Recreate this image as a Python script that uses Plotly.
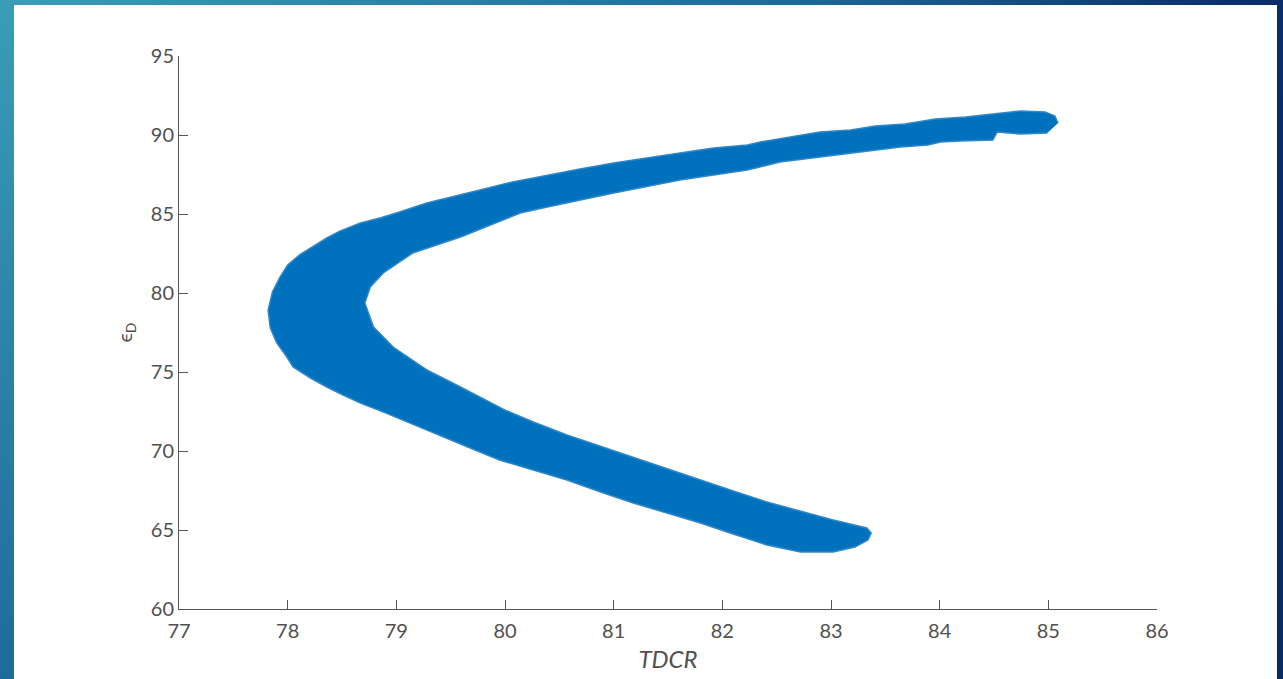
import base64
import plotly.graph_objects as go

# Band outline (outer edge: upper-right end -> tip -> lower-right end)
outer_tdcr = [85.09, 85.06, 84.97, 84.74, 84.49, 84.24, 83.96, 83.68, 83.41, 83.18, 82.90, 82.62,
              82.35, 82.23, 81.92, 81.61, 81.31, 81.00, 80.69, 80.39, 80.07, 79.77, 79.47, 79.28,
              79.03, 78.85, 78.67, 78.48, 78.36, 78.21, 78.11, 78.00, 77.93, 77.86, 77.82, 77.84,
              77.90, 77.98, 78.05, 78.21, 78.36, 78.51, 78.67, 78.90, 79.13, 79.40, 79.68, 79.95,
              80.26, 80.57, 80.88, 81.18, 81.49, 81.80, 82.10, 82.41, 82.72, 83.02, 83.22, 83.34, 83.37]
outer_eps = [90.76, 91.20, 91.46, 91.52, 91.33, 91.14, 91.01, 90.70, 90.57, 90.32, 90.19, 89.87,
             89.56, 89.37, 89.18, 88.86, 88.54, 88.23, 87.85, 87.47, 87.03, 86.52, 86.01, 85.70,
             85.13, 84.75, 84.43, 83.92, 83.48, 82.85, 82.41, 81.77, 81.01, 80.06, 78.92, 77.78,
             76.84, 76.08, 75.32, 74.62, 74.05, 73.54, 73.04, 72.41, 71.77, 71.01, 70.19, 69.43,
             68.80, 68.16, 67.41, 66.71, 66.08, 65.44, 64.75, 64.05, 63.61, 63.61, 63.92, 64.37, 64.81]

# Inner edge: lower-right end -> inner tip -> upper-right end
inner_tdcr = [83.33, 83.02, 82.72, 82.41, 82.10, 81.80, 81.49, 81.18, 80.88, 80.57, 80.26, 80.00,
              79.59, 79.28, 78.97, 78.79, 78.71, 78.76, 78.88, 79.15, 79.59, 80.14, 80.39, 81.00,
              81.61, 82.23, 82.53, 83.18, 83.64, 83.89, 84.01, 84.19, 84.49, 84.53, 84.74, 84.99]
inner_eps = [65.13, 65.63, 66.20, 66.77, 67.47, 68.16, 68.86, 69.56, 70.25, 71.01, 71.84, 72.59,
             74.05, 75.13, 76.58, 77.85, 79.37, 80.38, 81.27, 82.53, 83.54, 85.06, 85.44, 86.33,
             87.15, 87.78, 88.29, 88.86, 89.24, 89.37, 89.56, 89.62, 89.68, 90.19, 90.06, 90.13]

x_ticks = [77, 78, 79, 80, 81, 82, 83, 84, 85, 86]
y_ticks = [60, 65, 70, 75, 80, 85, 90, 95]

W, H = 1283, 679
L, R, T, B = 179, 126, 56, 70
pw, ph = W - L - R, H - T - B

def px(x):
    return (x - L) / pw

def py(y):
    return (H - B - y) / ph

svg = (
    '<svg xmlns="http://www.w3.org/2000/svg" width="1283" height="679" preserveAspectRatio="none">'
    '<defs><linearGradient id="g" x1="0" y1="0" x2="1" y2="0.6">'
    '<stop offset="0" stop-color="#3a9db7"/>'
    '<stop offset="0.45" stop-color="#1e6a9a"/>'
    '<stop offset="0.72" stop-color="#0b2d6b"/>'
    '<stop offset="1" stop-color="#0a2a66"/>'
    '</linearGradient></defs>'
    '<rect width="1283" height="679" fill="url(#g)"/></svg>'
)
src = "data:image/svg+xml;base64," + base64.b64encode(svg.encode()).decode()

BLUE = "#0072BD"
AX = "#555555"
TXT = "#505050"
FONT = "Lato, 'Noto Sans', sans-serif"

fig = go.Figure()
fig.add_trace(go.Scatter(
    x=outer_tdcr + inner_tdcr,
    y=outer_eps + inner_eps,
    mode="lines",
    fill="toself",
    fillcolor=BLUE,
    line=dict(color="#2f86c8", width=1.5),
    hoverinfo="skip",
    showlegend=False,
))

fig.update_layout(
    width=W, height=H,
    margin=dict(l=L, r=R, t=T, b=B, autoexpand=False),
    paper_bgcolor="#ffffff",
    plot_bgcolor="#ffffff",
    font=dict(family=FONT, color=TXT, size=20),
    images=[dict(source=src, xref="paper", yref="paper",
                 x=px(0), y=py(0), sizex=W / pw, sizey=H / ph,
                 xanchor="left", yanchor="top", sizing="stretch", layer="below")],
    shapes=[dict(type="rect", xref="paper", yref="paper",
                 x0=px(14), x1=px(1277), y0=py(H + 20), y1=py(5),
                 fillcolor="#ffffff", line=dict(width=0), layer="below")],
    xaxis=dict(range=[77, 86], tickvals=x_ticks, ticks="inside", ticklen=9,
               tickcolor=AX, tickwidth=1, showline=True, linecolor=AX, linewidth=1,
               showgrid=False, zeroline=False, tickfont=dict(size=20, color=TXT),
               ticklabelstandoff=4, automargin=False,
               title=dict(text="<i>TDCR</i>", font=dict(size=24, color=TXT), standoff=10)),
    yaxis=dict(range=[60, 95], tickvals=y_ticks, ticks="inside", ticklen=9,
               tickcolor=AX, tickwidth=1, showline=True, linecolor=AX, linewidth=1,
               showgrid=False, zeroline=False, tickfont=dict(size=20, color=TXT),
               automargin=False,
               title=dict(text="ϵ<sub>D</sub>", font=dict(size=20, color=TXT), standoff=12)),
)

fig.write_html("out.html", config={"displayModeBar": False},
               post_script="document.body.style.margin='0';document.body.style.overflow='hidden';")
